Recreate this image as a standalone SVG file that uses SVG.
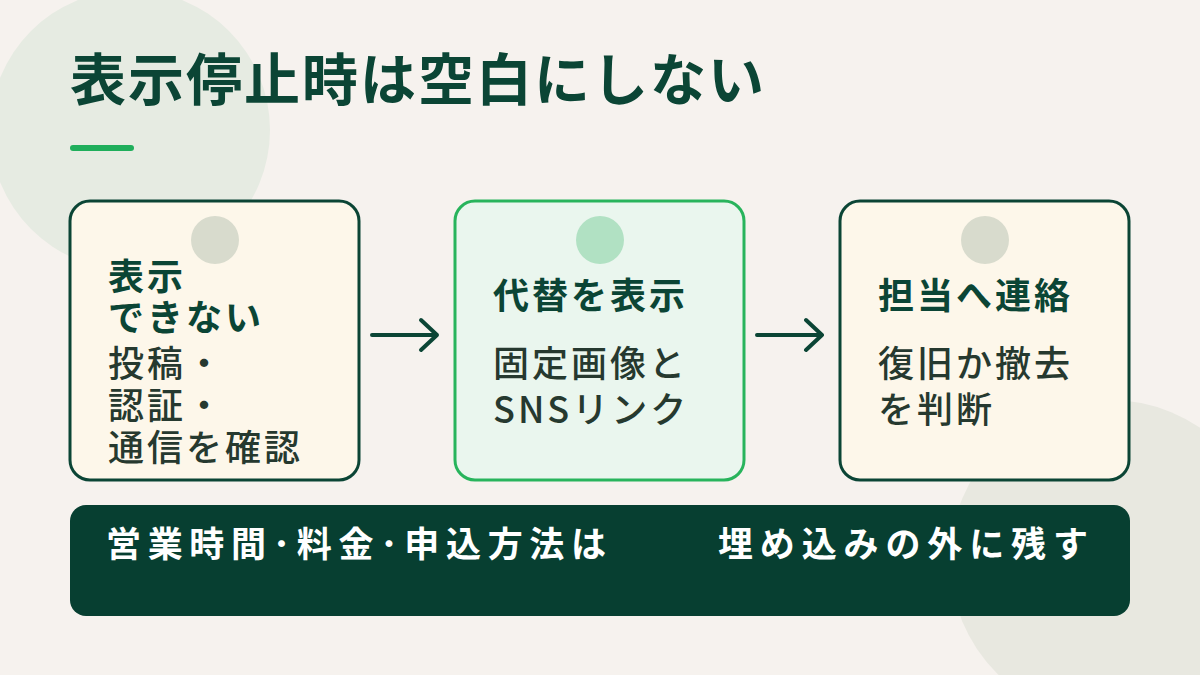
<svg xmlns="http://www.w3.org/2000/svg" width="1200" height="675" viewBox="0 0 1200 675">
<defs><style>
.t{font-family:"Noto Sans CJK JP","Noto Sans",sans-serif}
.h{font-weight:700;fill:#0b4535;font-size:36px;letter-spacing:3px}
.b{font-weight:500;fill:#26392f;font-size:36px;letter-spacing:3px}
.card{stroke-width:3}
.conn{stroke:#0b4535;stroke-width:4;fill:none;stroke-linecap:round;stroke-linejoin:round}
</style></defs>
<rect width="1200" height="675" fill="#f6f2ee"/>
<circle cx="130" cy="130" r="140" fill="#e6ebe2"/>
<circle cx="1110" cy="560" r="160" fill="#e8e8e0"/>
<text class="t" x="70" y="100" font-size="56" font-weight="700" fill="#0b4535" letter-spacing="2">表示停止時は空白にしない</text>
<rect x="70" y="145" width="64" height="6" rx="3" fill="#1fae5b"/>
<g id="node1"><rect class="card" x="70" y="201" width="289" height="279" rx="20" fill="#fdf7ea" stroke="#0b4535"/><circle cx="215" cy="240" r="24" fill="#d8dbcd"/>
<text class="t h" x="108" y="290">表示</text><text class="t h" x="108" y="331">できない</text>
<text class="t b" x="108" y="377">投稿・</text><text class="t b" x="108" y="419">認証・</text><text class="t b" x="108" y="461">通信を確認</text></g>
<g id="node2"><rect class="card" x="455" y="201" width="289" height="279" rx="20" fill="#eaf6ee" stroke="#28b45c"/><circle cx="600" cy="240" r="24" fill="#b1e1c3"/>
<text class="t h" x="493" y="309">代替を表示</text>
<text class="t b" x="493" y="377">固定画像と</text><text class="t b" x="493" y="423">SNSリンク</text></g>
<g id="node3"><rect class="card" x="840" y="201" width="289" height="279" rx="20" fill="#fdf7ea" stroke="#0b4535"/><circle cx="985" cy="240" r="24" fill="#d8dbcd"/>
<text class="t h" x="878" y="309">担当へ連絡</text>
<text class="t b" x="878" y="377">復旧か撤去</text><text class="t b" x="878" y="423">を判断</text></g>
<g id="connectors">
<path class="conn" d="M372 335H437M421 320L437 335L421 350"/>
<path class="conn" d="M757 335H822M806 320L822 335L806 350"/>
</g>
<g id="banner"><rect x="70" y="505" width="1060" height="111" rx="16" fill="#073f31"/>
<text class="t" x="106" y="557" font-size="35" font-weight="700" fill="#ffffff" textLength="500" lengthAdjust="spacing">営業時間･料金･申込方法は</text>
<text class="t" x="718" y="557" font-size="35" font-weight="700" fill="#ffffff" textLength="370" lengthAdjust="spacing">埋め込みの外に残す</text></g>
</svg>
